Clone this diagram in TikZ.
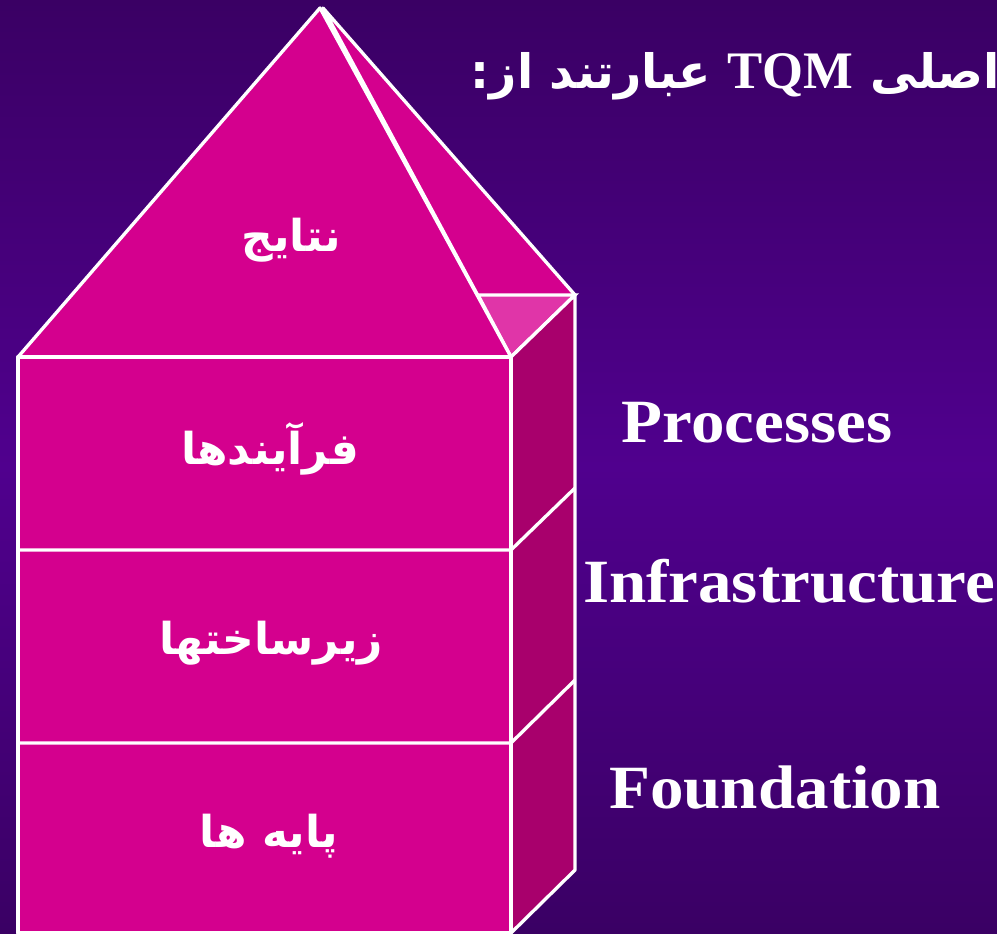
\documentclass[tikz,border=0pt]{standalone}
\usepackage{fontspec}
\setmainfont{Liberation Serif}
\newfontfamily\enfont[FakeStretch=1.09]{Liberation Serif}
\newfontfamily\arabicfont[Script=Arabic]{DejaVu Sans}
\TeXXeTstate=1
\usetikzlibrary{positioning,calc}

\definecolor{bgdark}{HTML}{3A0064}
\definecolor{bgmid}{HTML}{50008E}
\definecolor{frontpink}{HTML}{D4008E}
\definecolor{sidepink}{HTML}{A8006C}
\definecolor{lightpink}{HTML}{E035A8}

\tikzset{
	wall/.style={fill=frontpink, draw=white, line width=1.9pt, line join=round},
	sidewall/.style={fill=sidepink, draw=white, line width=1.9pt, line join=round},
	edge/.style={draw=white, line width=1.9pt},
	fa/.style={text=white, font=\arabicfont\bfseries\fontsize{25}{30}\selectfont, inner sep=0pt},
	en/.style={text=white, font=\enfont\bfseries\fontsize{35}{40}\selectfont, inner sep=0pt, anchor=base},
}

\begin{document}
\begin{tikzpicture}[x=0.02cm, y=-0.02cm]
	\useasboundingbox (0,0) rectangle (997,933);
	\shade[top color=bgdark, bottom color=bgdark, middle color=bgmid] (0,0) rectangle (997,933);

	% corners of the house
	\coordinate (apex)  at (320, 8);
	\coordinate (apexb) at (323, 8);
	\coordinate (fl)    at (18, 357);
	\coordinate (fr)    at (511, 357);
	\coordinate (br)    at (575, 295);
	\coordinate (bm)    at (478, 295);
	\coordinate (fbl)   at (18, 933);
	\coordinate (fbr)   at (511, 933);
	\coordinate (bbr)   at (575, 870);

	% roof
	\draw[wall] (apexb) -- (br) -- (fr) -- cycle;
	\draw[edge, fill=lightpink] (bm) -- (br) -- (fr) -- cycle;
	\draw[wall] (fl) -- (apex) -- (fr) -- cycle;

	% walls
	\draw[sidewall] (fr) -- (br) -- (bbr) -- (fbr) -- cycle;
	\draw[wall] (fl) rectangle (fbr);
	\draw[edge] (18, 550) -- (511, 550) -- (575, 488);
	\draw[edge] (18, 743) -- (511, 743) -- (575, 680);

	% labels on the house
	\node[fa] (results)  at (291, 240) {\beginR نتایج\endR};
	\node[fa] (procfa)   at (270, 449) {\beginR فرآیندها\endR};
	\node[fa] (infrafa)  at (271, 643) {\beginR زیرساختها\endR};
	\node[fa] (foundfa)  at (269, 836) {\beginR پایه ها\endR};

	% labels beside the house
	\node[en] (proc)  at (757, 442) {Processes};
	\node[en] (infra) at (789, 602) {Infrastructure};
	\node[en] (found) at (775, 808) {Foundation};

	% title
	\node[anchor=base east, text=white, inner sep=0pt, font=\arabicfont\bfseries\fontsize{27}{30}\selectfont] (title) at (1000, 88)
		{\beginR اصلی \beginL{\rmfamily\bfseries\fontsize{30}{34}\selectfont TQM}\endL{} عبارتند از:\endR};
\end{tikzpicture}
\end{document}
